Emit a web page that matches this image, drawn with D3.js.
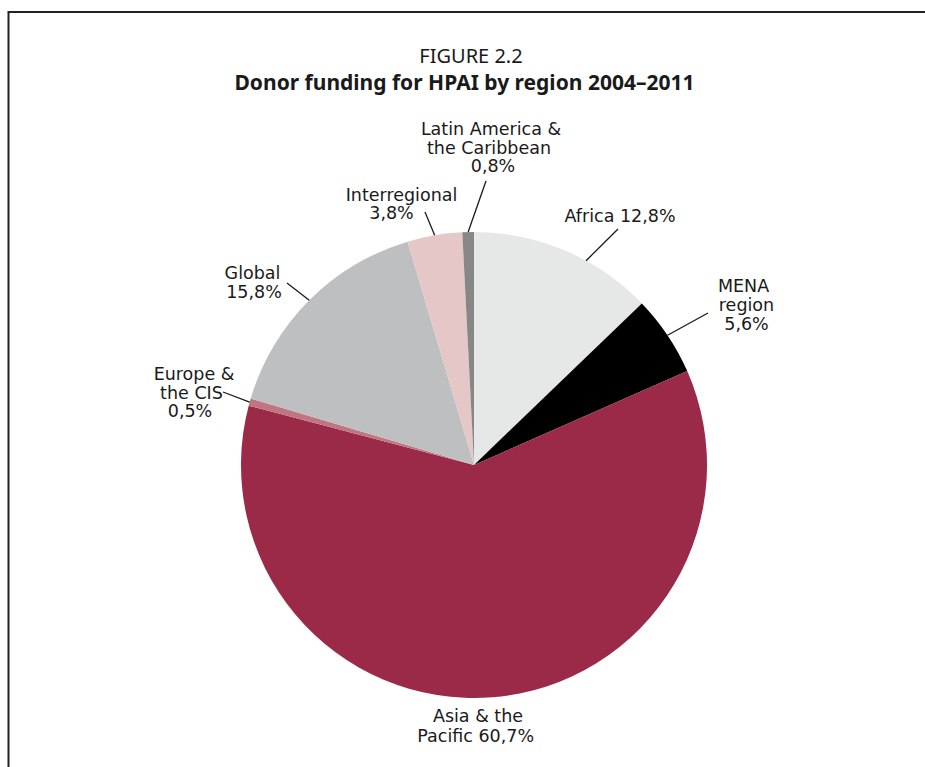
<!DOCTYPE html>
<html><head><meta charset="utf-8">
<script src="https://cdn.jsdelivr.net/npm/d3@7"></script>
<style>body{margin:0;background:#fff}svg{display:block}</style>
</head><body>
<script>
const categories = ["Africa", "MENA region", "Asia & the Pacific", "Europe & the CIS", "Global", "Interregional", "Latin America & the Caribbean"];
const values = [12.8, 5.6, 60.7, 0.5, 15.8, 3.8, 0.8];
const valueLabels = ["12,8%", "5,6%", "60,7%", "0,5%", "15,8%", "3,8%", "0,8%"];
const colors = ["#e6e7e7", "#000000", "#9b2a48", "#c07580", "#bebfc1", "#e5c7c8", "#878787"];
const titleLines = ["FIGURE 2.2", "Donor funding for HPAI by region 2004–2011"];

// label layout: text lines with centre x per line, first baseline, line gap, leader outer point, angle tweak (deg)
const labelLayout = [
  {lines:["Africa 12,8%"], xs:[620], y:222, gap:18.6, lx:618, ly:229, da:5.7},
  {lines:["MENA","region","5,6%"], xs:[743.5,746.5,746.5], y:291.7, gap:19.2, lx:708, ly:313, da:0},
  {lines:["Asia & the","Pacific 60,7%"], xs:[478,475.7], y:722.3, gap:20, lx:null, ly:null, da:0},
  {lines:["Europe &","the CIS","0,5%"], xs:[194,191.5,190], y:380, gap:18.6, lx:223, ly:392, da:0},
  {lines:["Global","15,8%"], xs:[252.5,254], y:279, gap:18.6, lx:287, ly:283, da:0},
  {lines:["Interregional","3,8%"], xs:[401.5,391.5], y:200.7, gap:18.6, lx:425, ly:212, da:0},
  {lines:["Latin America &","the Caribbean","0,8%"], xs:[491,489,493], y:135, gap:18.5, lx:486, ly:181, da:0}
];

const W = 925, H = 767;
const cx = 474, cy = 465, R = 233;
const labelFont = "'DejaVu Sans', sans-serif";
const titleFont = "'Noto Sans', 'Open Sans', sans-serif";

const svg = d3.select("body").append("svg").attr("width", W).attr("height", H);

svg.append("path")
  .attr("d", `M8.5,${H+5} L8.5,12 L${W+5},12`)
  .attr("fill","none").attr("stroke","#222").attr("stroke-width",2);

svg.append("text").attr("x", 471).attr("y", 62.5).attr("text-anchor","middle")
  .attr("font-family", titleFont).attr("font-size", 20).attr("fill","#1a1a1a").text(titleLines[0]);
svg.append("text").attr("x", 464.5).attr("y", 90).attr("text-anchor","middle")
  .attr("font-family", titleFont).attr("font-size", 21).attr("font-weight","bold").attr("fill","#1a1a1a").text(titleLines[1]);

const data = categories.map((c,i)=>({cat:c, value:values[i], color:colors[i], layout:labelLayout[i]}));
const pie = d3.pie().value(d=>d.value).sort(null);
const arcs = pie(data);
const arc = d3.arc().innerRadius(0).outerRadius(R);

const g = svg.append("g").attr("transform", `translate(${cx},${cy})`);
g.selectAll("path.slice").data(arcs).join("path").attr("class","slice")
  .attr("d", arc).attr("fill", d=>d.data.color);

// leader lines
arcs.forEach(a=>{
  const L = a.data.layout;
  if (L.lx == null) return;
  const ang = (a.startAngle + a.endAngle)/2 + L.da*Math.PI/180;
  const x1 = cx + R*Math.sin(ang), y1 = cy - R*Math.cos(ang);
  svg.append("line").attr("x1", x1).attr("y1", y1).attr("x2", L.lx).attr("y2", L.ly)
    .attr("stroke","#1a1a1a").attr("stroke-width",1.3);
});

// labels
arcs.forEach(a=>{
  const L = a.data.layout;
  const t = svg.append("text").attr("font-family", labelFont).attr("font-size", 17.5)
    .attr("fill","#1a1a1a").attr("text-anchor", "middle");
  L.lines.forEach((ln,i)=>{
    t.append("tspan").attr("x", L.xs[i]).attr("y", L.y + i*L.gap).text(ln);
  });
});
</script>
</body></html>
